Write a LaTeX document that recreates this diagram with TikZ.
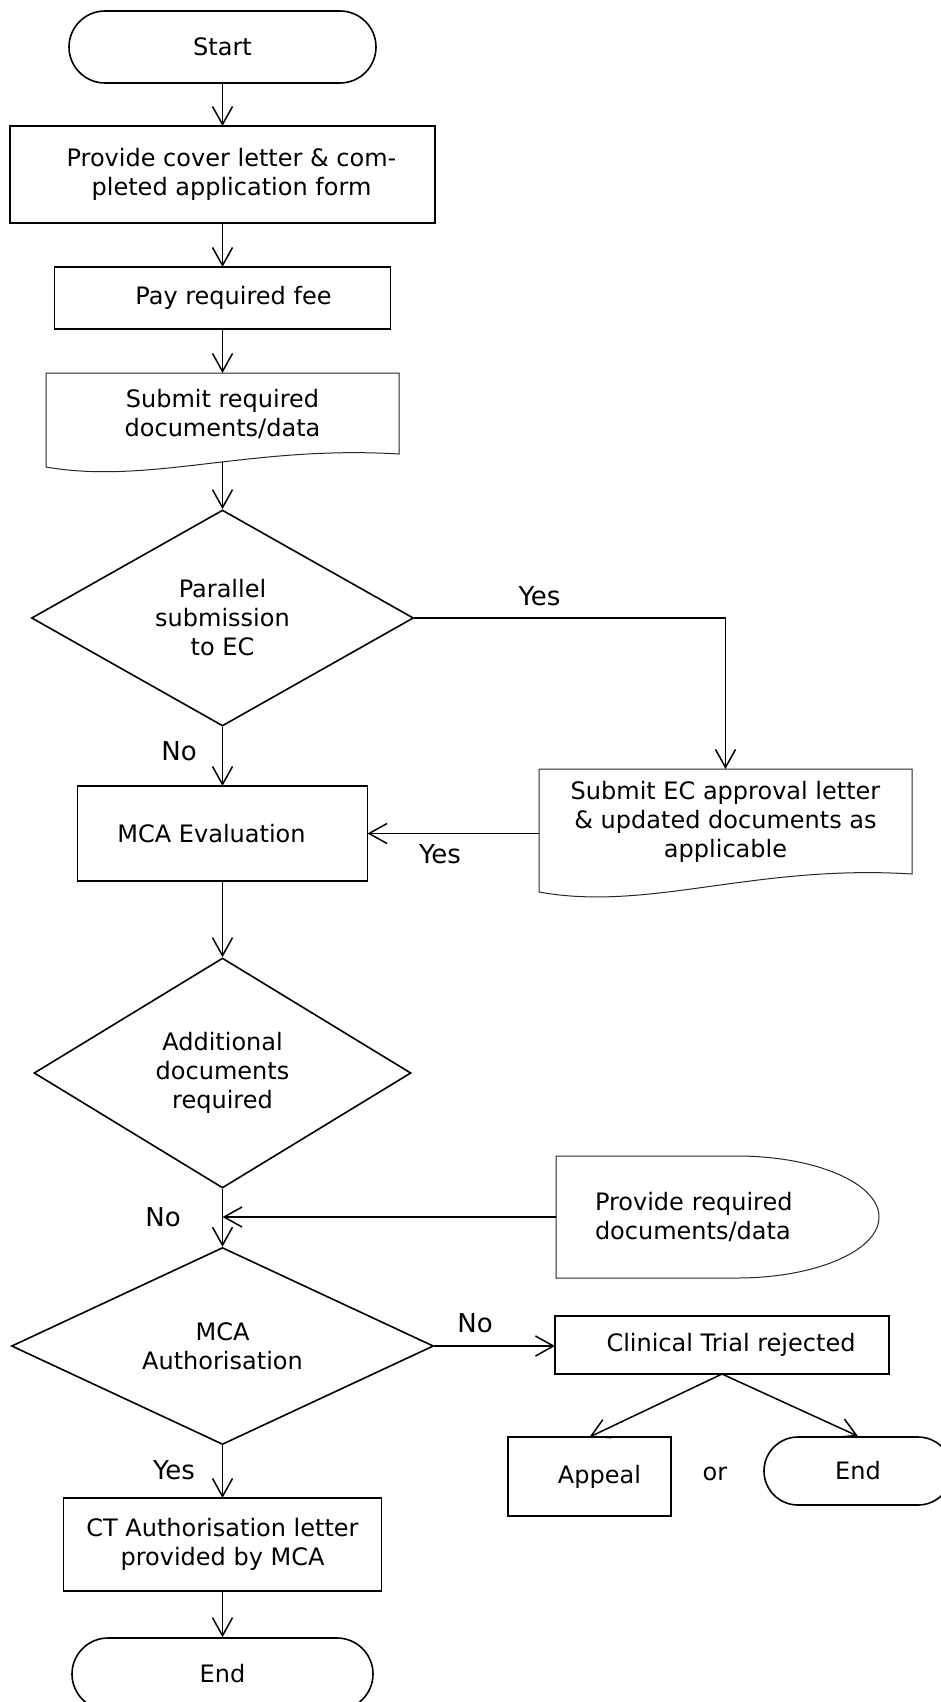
\documentclass[tikz,border=0pt]{standalone}
\usepackage{fontspec}
\setmainfont{DejaVu Sans}
\usetikzlibrary{shapes.geometric,arrows.meta}
\tikzset{
  arr/.style={-{Straight Barb[length=9pt,width=10pt]}, line width=0.75pt},
  terminal/.style={draw, line width=0.8pt, rounded corners=18pt, minimum height=36pt},
  process/.style={draw, line width=0.8pt, align=center, outer sep=0pt},
  decision/.style={diamond, draw, line width=0.8pt, aspect=2, inner sep=0pt, align=center},
  docnode/.style={align=center, outer sep=0pt, inner sep=0pt},
  docline/.style={line width=0.5pt, draw=black!85},
  lbl/.style={font=\fontsize{13}{15}\selectfont}
}
\begin{document}
\begin{tikzpicture}[x=0.5pt, y=-0.5pt, font=\fontsize{12}{14.5}\selectfont]
        \useasboundingbox (0,0) rectangle (941,1702);

        \node[terminal, minimum width=153.5pt] (start) at (222.5,47) {Start};
        \node[process, minimum width=212.5pt, minimum height=48.5pt] (cover) at (222.5,174.5) {\hspace*{9pt}Provide cover letter \& com-\\\hspace*{9pt}pleted application form};
        \node[process, minimum width=168pt, minimum height=31pt] (fee) at (222.5,298) {\hspace*{11pt}Pay required fee};
        \node[docnode, minimum width=176.5pt, minimum height=40.5pt] (submit) at (222.5,413.5) {Submit required\\documents/data};
        \draw[docline] (submit.north east) -- (submit.north west) -- ++(0,94) .. controls +(104,18) and +(-149,-9) .. coordinate[pos=0.55] (submitwave) (submit.south east) -- cycle;

        \node[decision, minimum width=191pt, minimum height=108pt] (parallel) at (222.5,618) {Parallel\\submission\\to EC};
        \node[docnode, minimum width=186.5pt, minimum height=52.5pt] (ecdoc) at (725.5,821.5) {Submit EC approval letter\\\& updated documents as\\applicable};
        \draw[docline] (ecdoc.north east) -- (ecdoc.north west) -- ++(0,123) .. controls +(110,20) and +(-158,-10) .. (ecdoc.south east) -- cycle;
        \node[process, minimum width=145pt, minimum height=47.5pt] (mcaeval) at (222.5,833.5) {\hspace*{-11pt}MCA Evaluation};

        \node[decision, minimum width=188.5pt, minimum height=115pt] (additional) at (222.5,1073) {Additional\\documents\\required};
        \node[docnode, minimum width=161.5pt, minimum height=61pt, inner xsep=19.5pt, text width=122.5pt, align=left] (provide) at (717.5,1217) {Provide required\\documents/data};
        \draw[docline] (provide.south west) -- (provide.north west) -- ++(181,0) .. controls +(78,0) and +(0,-34) .. (provide.east) .. controls +(0,34) and +(78,0) .. ++(-142,61) -- cycle;

        \node[decision, minimum width=211pt, minimum height=98.5pt] (mcaauth) at (222.5,1346) {MCA\\Authorisation};
        \node[process, minimum width=167pt, minimum height=29pt] (rejected) at (722,1345) {\hspace*{9pt}Clinical Trial rejected};
        \node[process, minimum width=81.5pt, minimum height=39.5pt] (appeal) at (589.5,1476.5) {\hspace*{10pt}Appeal};
        \node (ortext) at (715,1474) {or};
        \node[terminal, minimum width=94pt, minimum height=34pt, rounded corners=17pt] (endright) at (858,1471) {End};
        \node[process, minimum width=159pt, minimum height=46.5pt] (ctletter) at (222.5,1544.5) {CT Authorisation letter\\provided by MCA};
        \node[terminal, minimum width=150.5pt] (endnode) at (222.5,1674) {End};

        \node[lbl] (noparallel) at (179,751) {No};
        \node[lbl] (yesparallel) at (539.5,596) {Yes};
        \node[lbl] (yesec) at (440,854) {Yes};
        \node[lbl] (noadditional) at (163,1217) {No};
        \node[lbl] (noauth) at (475,1323) {No};
        \node[lbl] (yesauth) at (174,1470) {Yes};

        \draw[arr] (start) -- (cover);
        \draw[arr] (cover) -- (fee);
        \draw[arr] (fee) -- (submit);
        \draw[arr] (submit.south |- submitwave) -- (parallel.north);
        \draw[arr] (parallel.south) -- (mcaeval.north);
        \draw[arr] (parallel.east) -| (ecdoc.north);
        \draw[arr] (mcaeval.east -| ecdoc.west) -- (mcaeval.east);
        \draw[arr] (mcaeval.south) -- (additional.north);
        \draw[arr] (additional.south) -- (mcaauth.north);
        \draw[arr] (provide.west) -- (provide.west -| additional.south);
        \draw[arr] (mcaauth.east) -- (mcaauth.east -| rejected.west);
        \draw[arr] (rejected.south) -- (appeal.north);
        \draw[arr] (rejected.south) -- (endright.north);
        \draw[arr] (mcaauth.south) -- (ctletter.north);
        \draw[arr] (ctletter.south) -- (endnode.north);
      \end{tikzpicture}
\end{document}
